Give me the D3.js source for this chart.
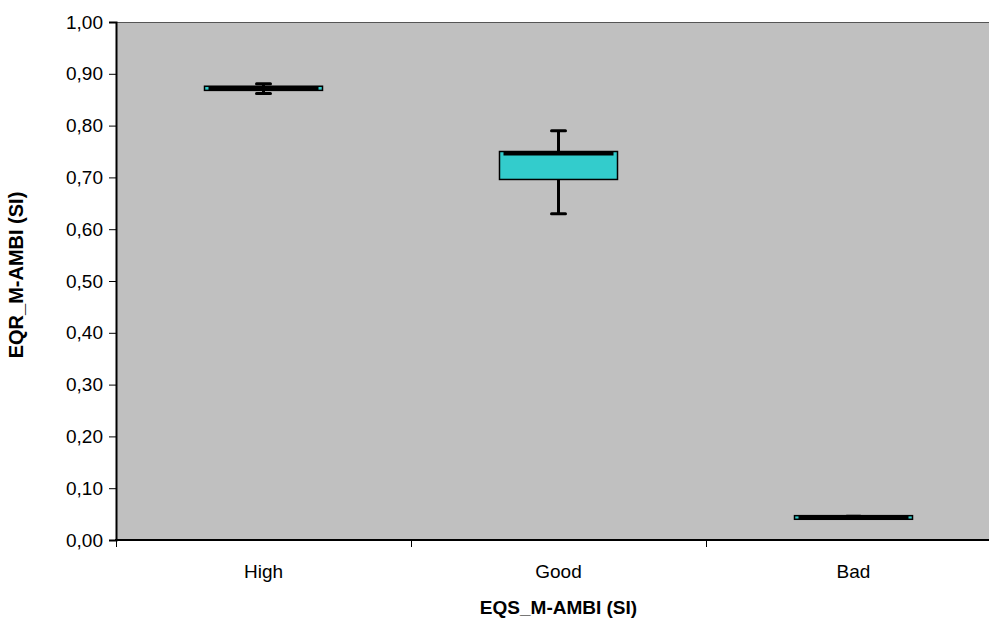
<!DOCTYPE html>
<html>
<head>
<meta charset="utf-8">
<script src="https://cdn.jsdelivr.net/npm/d3@7"></script>
<style>
  html, body { margin: 0; padding: 0; background: #fff; }
  svg { display: block; font-family: 'Liberation Sans', Arial, sans-serif; }
</style>
</head>
<body>
<svg id="chart" width="989" height="625"></svg>
<script>
// box plot values
const categories = ['High', 'Good', 'Bad']
const minVals = [0.862, 0.630, 0.042]
const q1Vals = [0.868, 0.696, 0.040]
const medianVals = [0.872, 0.746, 0.044]
const q3Vals = [0.876, 0.750, 0.047]
const maxVals = [0.881, 0.790, 0.046]
const yTicks = [0, 0.1, 0.2, 0.3, 0.4, 0.5, 0.6, 0.7, 0.8, 0.9, 1.0]

const rows = categories.map((c, i) => ({
    cat: c, min: minVals[i], q1: q1Vals[i], med: medianVals[i], q3: q3Vals[i], max: maxVals[i]
}))

const svg = d3.select('#chart')
const plotL = 116, plotR = 1001, plotT = 22, plotB = 540
const fontSize = 19

const x = d3.scaleBand().domain(categories).range([plotL, plotR])
const y = d3.scaleLinear().domain([0, 1]).range([plotB, plotT])
const loc = d3.formatLocale({ decimal: ',', thousands: '.', grouping: [3], currency: ['', ''] })
const fmt = loc.format('.2f')

// plot area
svg.append('rect')
    .attr('x', plotL).attr('y', plotT)
    .attr('width', plotR - plotL).attr('height', plotB - plotT)
    .attr('fill', '#c0c0c0')
svg.append('line')
    .attr('x1', plotL).attr('x2', plotR).attr('y1', plotT + 0.5).attr('y2', plotT + 0.5)
    .attr('stroke', '#555').attr('stroke-width', 1)

// y axis
const yAxis = svg.append('g')
    .attr('transform', `translate(${plotL},0)`)
    .call(d3.axisLeft(y).tickValues(yTicks).tickFormat(fmt).tickSize(7).tickPadding(6))
yAxis.select('.domain').attr('stroke', '#000').attr('stroke-width', 2)
yAxis.selectAll('.tick line').attr('stroke', '#000')
yAxis.selectAll('text').attr('font-size', fontSize).attr('fill', '#000')
    .attr('font-family', "'Liberation Sans', Arial, sans-serif")

// x axis
const xAxis = svg.append('g')
    .attr('transform', `translate(0,${plotB})`)
    .call(d3.axisBottom(x).tickSize(0).tickPadding(25))
xAxis.select('.domain').remove()
xAxis.selectAll('text').attr('font-size', fontSize).attr('fill', '#000')
    .attr('font-family', "'Liberation Sans', Arial, sans-serif")
svg.append('line')
    .attr('x1', plotL - 1).attr('x2', plotR).attr('y1', plotB).attr('y2', plotB)
    .attr('stroke', '#000').attr('stroke-width', 2)
svg.append('g').selectAll('line')
    .data(categories)
    .enter()
    .append('line')
    .attr('x1', d => Math.round(x(d)) + 0.5)
    .attr('x2', d => Math.round(x(d)) + 0.5)
    .attr('y1', plotB).attr('y2', plotB + 7)
    .attr('stroke', '#000')

// boxes
const bw = x.bandwidth() * 0.4
const cx = d => x(d.cat) + x.bandwidth() / 2
const g = svg.append('g')
const boxes = g.selectAll('.box').data(rows).enter().append('g').attr('class', 'box')

boxes.append('line')
    .attr('x1', cx).attr('x2', cx)
    .attr('y1', d => y(d.max)).attr('y2', d => y(d.min))
    .attr('stroke', '#000').attr('stroke-width', 3)
boxes.append('rect')
    .attr('x', d => cx(d) - bw / 2)
    .attr('y', d => y(d.q3))
    .attr('width', bw)
    .attr('height', d => y(d.q1) - y(d.q3))
    .attr('fill', '#33cccc')
    .attr('stroke', '#000').attr('stroke-width', 1.5)
boxes.append('line')
    .attr('x1', d => cx(d) - bw / 2 + 4).attr('x2', d => cx(d) + bw / 2 - 4)
    .attr('y1', d => y(d.med)).attr('y2', d => y(d.med))
    .attr('stroke', '#000').attr('stroke-width', 4)
boxes.append('line')
    .attr('x1', d => cx(d) - 7).attr('x2', d => cx(d) + 7)
    .attr('y1', d => y(d.max)).attr('y2', d => y(d.max))
    .attr('stroke', '#000').attr('stroke-width', 3).attr('stroke-linecap', 'round')
boxes.append('line')
    .attr('x1', d => cx(d) - 7).attr('x2', d => cx(d) + 7)
    .attr('y1', d => y(d.min)).attr('y2', d => y(d.min))
    .attr('stroke', '#000').attr('stroke-width', 3).attr('stroke-linecap', 'round')

// axis titles
svg.append('text')
    .attr('x', (plotL + plotR) / 2).attr('y', 614)
    .attr('text-anchor', 'middle')
    .attr('font-size', fontSize).attr('font-weight', 'bold')
    .text('EQS_M-AMBI (SI)')
svg.append('text')
    .attr('transform', 'translate(23,275) rotate(-90)')
    .attr('text-anchor', 'middle')
    .attr('font-size', 20).attr('font-weight', 'bold')
    .text('EQR_M-AMBI (SI)')
</script>
</body>
</html>
